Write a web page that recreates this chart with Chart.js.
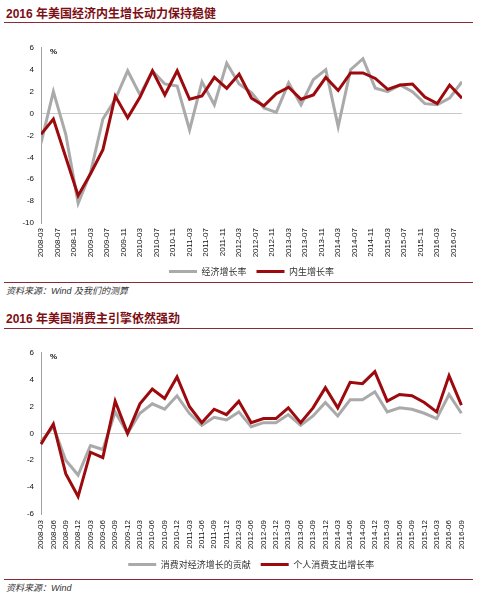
<!DOCTYPE html>
<html>
<head>
<meta charset="utf-8">
<script src="https://cdn.jsdelivr.net/npm/chart.js@4.4.0/dist/chart.umd.min.js"></script>
<style>
  body { margin: 0; background: #fff; width: 477px; height: 605px; position: relative; overflow: hidden; }
  .title { position: absolute; left: 6px; font: bold 12px 'Liberation Sans', 'Noto Sans CJK SC', sans-serif; color: #7d0f14; line-height: 14px; }
  .rule { position: absolute; left: 4px; width: 469px; height: 1px; background: #8a2a35; }
  .source { position: absolute; left: 6px; font: italic 9px 'Liberation Sans', 'Noto Sans CJK SC', sans-serif; color: #333; line-height: 10px; }
  .unit { position: absolute; left: 50px; font: bold 8px 'Liberation Sans', sans-serif; color: #111; }
  .box { position: absolute; left: 0; width: 477px; }
</style>
</head>
<body>
<div class="title" style="top:7px">2016 年美国经济内生增长动力保持稳健</div>
<div class="rule" style="top:22px"></div>
<div class="box" style="top:36px;height:250px"><canvas id="growthChart"></canvas></div>
<div class="unit" style="top:47px">%</div>
<div class="rule" style="top:282px"></div>
<div class="source" style="top:286px">资料来源：Wind 及我们的测算</div>

<div class="title" style="top:312px">2016 年美国消费主引擎依然强劲</div>
<div class="rule" style="top:328px"></div>
<div class="box" style="top:341px;height:238px"><canvas id="consumptionChart"></canvas></div>
<div class="unit" style="top:352px">%</div>
<div class="rule" style="top:579px"></div>
<div class="source" style="top:583px">资料来源：Wind</div>

<script>
// quarterly periods shared by both charts
const quarters = ['2008-03', '2008-06', '2008-09', '2008-12', '2009-03', '2009-06', '2009-09', '2009-12',
  '2010-03', '2010-06', '2010-09', '2010-12', '2011-03', '2011-06', '2011-09', '2011-12',
  '2012-03', '2012-06', '2012-09', '2012-12', '2013-03', '2013-06', '2013-09', '2013-12',
  '2014-03', '2014-06', '2014-09', '2014-12', '2015-03', '2015-06', '2015-09', '2015-12',
  '2016-03', '2016-06', '2016-09'];

// top chart: 经济增长率 / 内生增长率 (%)
const gdpGrowth = [-2.7, 2.0, -1.9, -8.2, -5.4, -0.5, 1.3, 3.9, 1.7, 3.9, 2.7, 2.5, -1.5, 2.9, 0.8, 4.6,
  2.7, 1.9, 0.5, 0.1, 2.8, 0.8, 3.1, 4.0, -1.2, 4.0, 5.0, 2.3, 2.0, 2.6, 2.0, 0.9, 0.8, 1.4, 2.9];
const endoGrowth = [-1.9, -0.5, -4.0, -7.5, -5.5, -3.3, 1.6, -0.4, 1.5, 3.9, 1.7, 3.9, 1.3, 1.6, 3.3, 2.3,
  3.6, 1.4, 0.7, 1.8, 2.4, 1.3, 1.7, 3.3, 2.1, 3.7, 3.7, 3.2, 2.2, 2.6, 2.7, 1.5, 0.9, 2.6, 1.4];

// bottom chart: 消费对经济增长的贡献 / 个人消费支出增长率 (%)
const consContribution = [-0.6, 0.5, -2.0, -3.1, -0.9, -1.2, 1.6, 0.0, 1.5, 2.2, 1.8, 2.8, 1.5, 0.6, 1.2, 1.0,
  1.6, 0.5, 0.8, 0.8, 1.4, 0.6, 1.3, 2.3, 1.3, 2.5, 2.5, 3.1, 1.6, 1.9, 1.8, 1.5, 1.1, 2.9, 1.5];
const pceGrowth = [-0.8, 0.7, -3.0, -4.7, -1.4, -1.8, 2.4, 0.0, 2.2, 3.3, 2.6, 4.2, 2.0, 0.8, 1.8, 1.4,
  2.4, 0.8, 1.1, 1.1, 1.9, 0.8, 1.9, 3.4, 1.9, 3.8, 3.7, 4.6, 2.4, 2.9, 2.8, 2.3, 1.6, 4.3, 2.1];

const topYTicks = { min: -10, max: 6, step: 2 };
const bottomYTicks = { min: -6, max: 6, step: 2 };
const topXTickStep = 4; // months between labels on the top chart's date axis

const RED = '#9c0a0e';
const GREY = '#aaaaaa';
const CJK = "'Noto Sans CJK SC', sans-serif";
const LATIN = "'Liberation Sans', Arial, sans-serif";

// months since 2008-03, used as the top chart's x value
function monthOffset(label) {
  const [y, m] = label.split('-').map(Number);
  return (y - 2008) * 12 + (m - 3);
}
function monthLabel(offset) {
  const total = 2 + offset;
  const y = 2008 + Math.floor(total / 12);
  const m = (total % 12) + 1;
  return y + '-' + String(m).padStart(2, '0');
}

function lineSet(label, values, color, order, xs) {
  return {
    label: label,
    data: xs ? values.map((v, i) => ({ x: xs[i], y: v })) : values,
    borderColor: color,
    backgroundColor: color,
    borderWidth: 3,
    pointRadius: 0,
    tension: 0,
    order: order
  };
}

function yAxis(t) {
  return {
    min: t.min,
    max: t.max,
    ticks: { stepSize: t.step, color: '#111', font: { family: LATIN, size: 8 }, padding: 7 },
    grid: {
      drawTicks: false,
      color: (c) => c.tick && c.tick.value === 0 ? '#c8c8c8' : 'rgba(0,0,0,0)',
      lineWidth: 1
    },
    border: { display: true, color: '#a0a0a0', width: 1 },
    afterFit: (s) => { s.width = 41; }
  };
}

function xAxis(base, pad, height) {
  return Object.assign({
    grid: { display: false, drawTicks: false },
    border: { display: false },
    afterFit: (s) => { s.height = height; }
  }, base, {
    ticks: Object.assign({
      autoSkip: false,
      minRotation: 90,
      maxRotation: 90,
      padding: pad,
      color: '#111',
      font: { family: LATIN, size: 8 }
    }, base.ticks || {})
  });
}

function baseOptions(x, yTicks) {
  return {
    responsive: true,
    maintainAspectRatio: false,
    animation: false,
    layout: { padding: { top: 7, right: 15, bottom: 0, left: 0 } },
    plugins: {
      legend: {
        position: 'bottom',
        fullSize: false,
        labels: {
          boxWidth: 28,
          boxHeight: 3,
          padding: 10,
          color: '#333',
          font: { family: CJK, size: 9 },
          sort: (a, b) => a.datasetIndex - b.datasetIndex,
          generateLabels: (chart) => Chart.defaults.plugins.legend.labels.generateLabels(chart)
            .map((l) => Object.assign(l, { lineWidth: 0, fillStyle: l.strokeStyle }))
        }
      },
      tooltip: { enabled: false }
    },
    scales: { x: x, y: yAxis(yTicks) }
  };
}

const quarterMonths = quarters.map(monthOffset);

new Chart(document.getElementById('growthChart'), {
  type: 'line',
  data: {
    datasets: [
      lineSet('经济增长率', gdpGrowth, GREY, 1, quarterMonths),
      lineSet('内生增长率', endoGrowth, RED, 0, quarterMonths)
    ]
  },
  options: baseOptions(xAxis({
    type: 'linear',
    min: quarterMonths[0],
    max: quarterMonths[quarterMonths.length - 1],
    ticks: {
      stepSize: topXTickStep,
      includeBounds: false,
      callback: (v) => monthLabel(v)
    }
  }, 5, 34), topYTicks)
});

new Chart(document.getElementById('consumptionChart'), {
  type: 'line',
  data: {
    labels: quarters,
    datasets: [
      lineSet('消费对经济增长的贡献', consContribution, GREY, 1),
      lineSet('个人消费支出增长率', pceGrowth, RED, 0)
    ]
  },
  options: baseOptions(xAxis({
    type: 'category',
    offset: false
  }, 6, 36), bottomYTicks)
});
</script>
</body>
</html>
